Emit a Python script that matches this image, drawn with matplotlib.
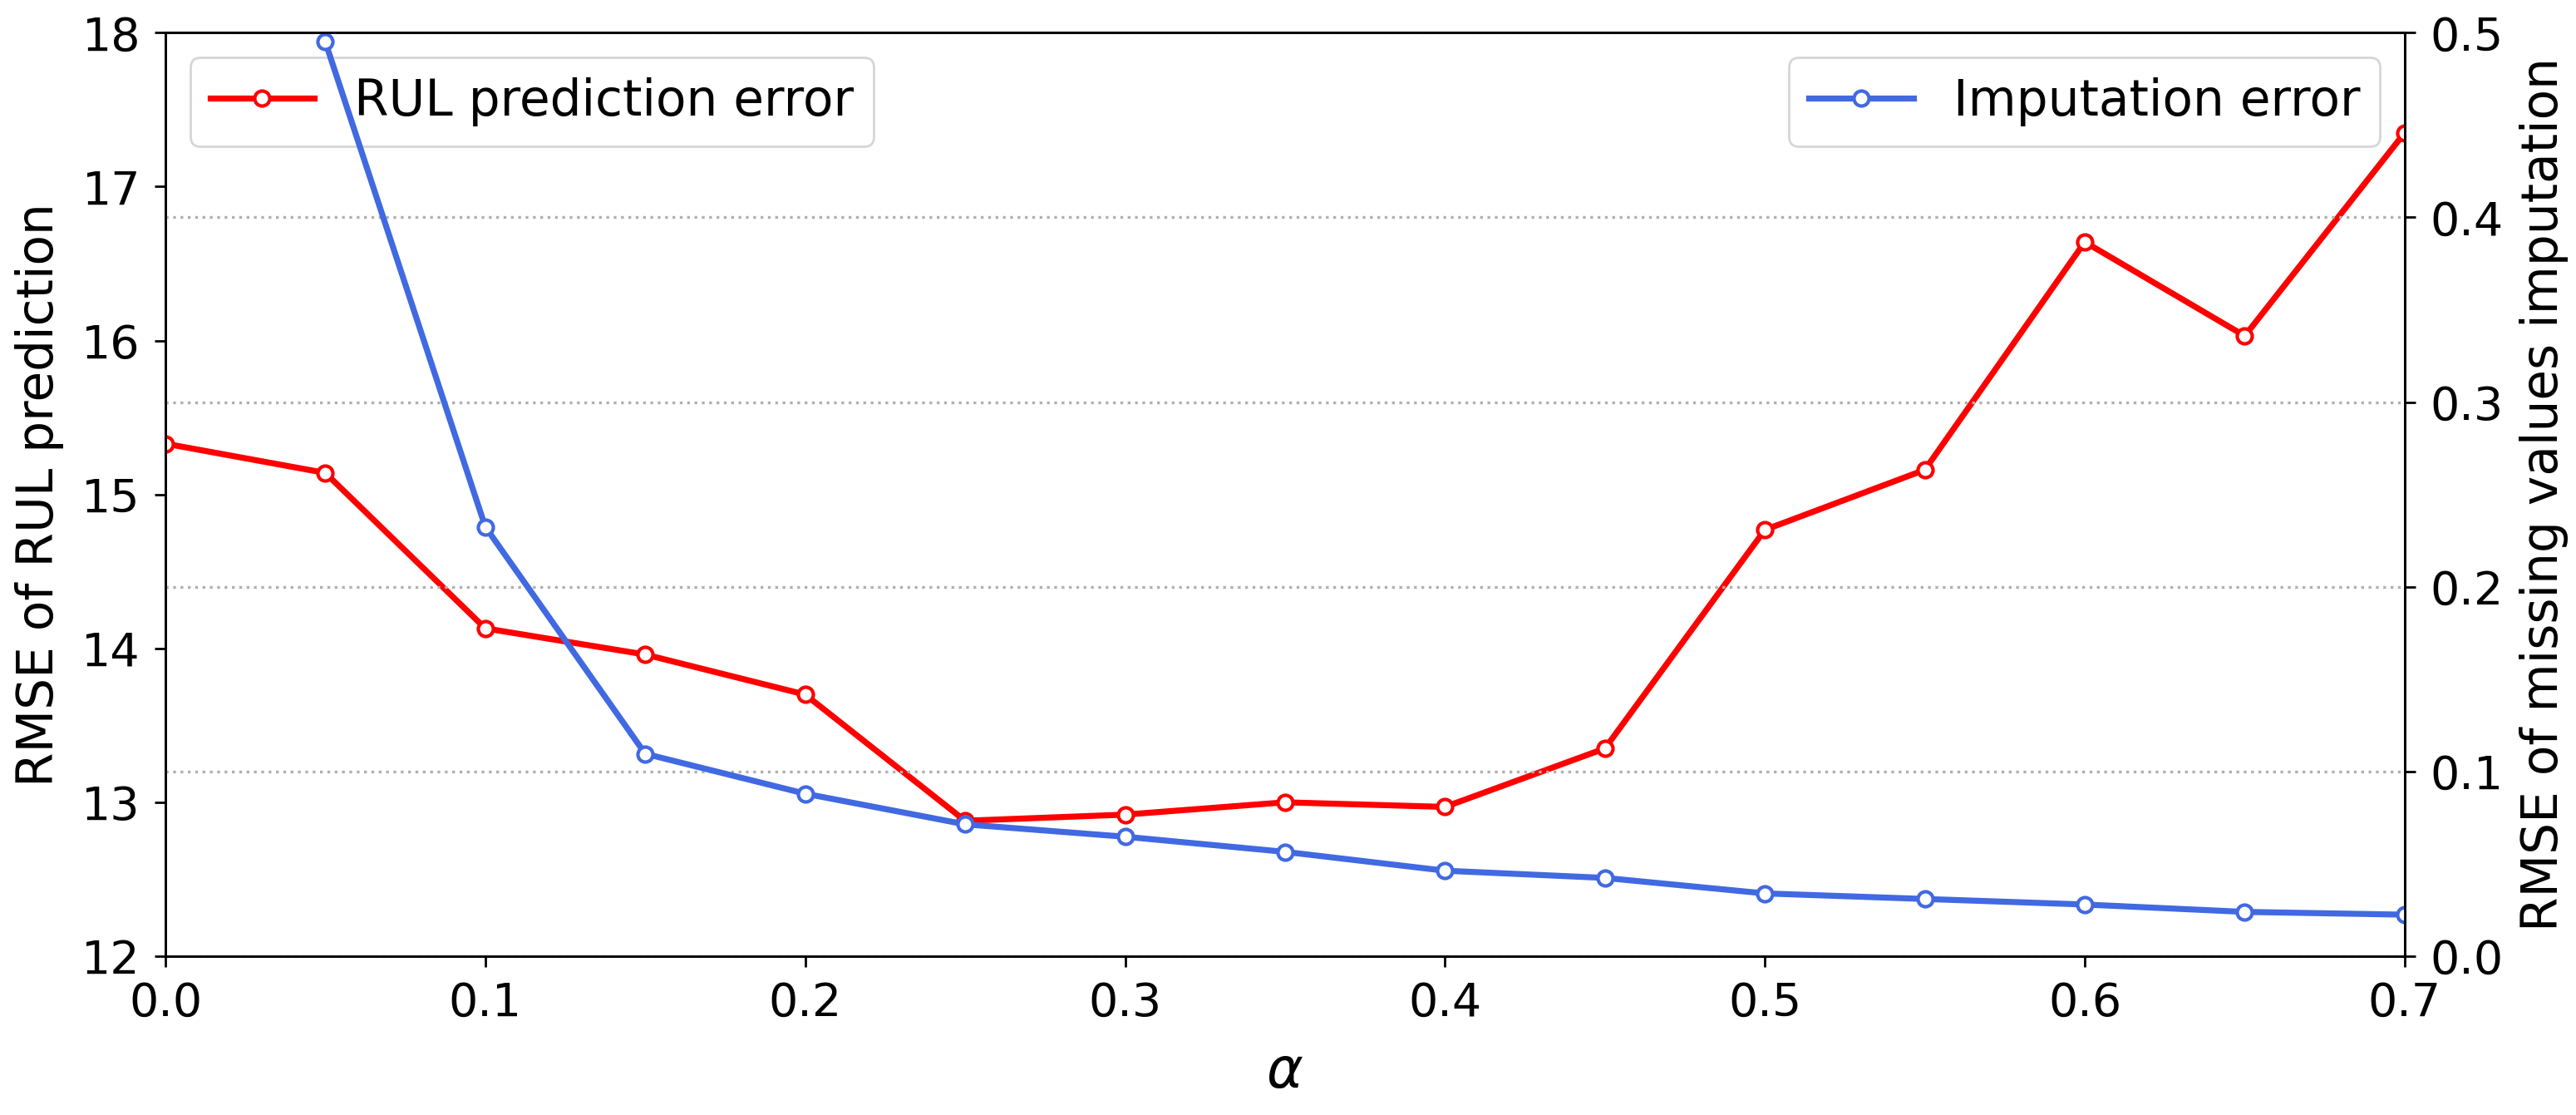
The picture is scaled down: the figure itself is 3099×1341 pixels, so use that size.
import matplotlib
matplotlib.use("Agg")
import matplotlib.pyplot as plt

# ---- data ----
alpha_rul = [0.0, 0.05, 0.1, 0.15, 0.2, 0.25, 0.3, 0.35, 0.4, 0.45, 0.5, 0.55, 0.6, 0.65, 0.7]
rul_error = [15.33, 15.14, 14.13, 13.96, 13.70, 12.88, 12.92, 13.00, 12.97, 13.35, 14.77, 15.16, 16.64, 16.03, 17.35]

alpha_imp = [0.05, 0.1, 0.15, 0.2, 0.25, 0.3, 0.35, 0.4, 0.45, 0.5, 0.55, 0.6, 0.65, 0.7]
imp_error = [0.495, 0.2325, 0.1096, 0.088, 0.0714, 0.0647, 0.0565, 0.0463, 0.0424, 0.034, 0.031, 0.028, 0.024, 0.0225]

x_ticks = [0.0, 0.1, 0.2, 0.3, 0.4, 0.5, 0.6, 0.7]
y1_ticks = [12, 13, 14, 15, 16, 17, 18]
y2_ticks = [0.0, 0.1, 0.2, 0.3, 0.4, 0.5]

FS = 20

fig = plt.figure(figsize=(15.495, 6.705), dpi=200)
ax1 = fig.add_axes([0.0642, 0.1424, 0.8693, 0.8283])
ax2 = ax1.twinx()

l1, = ax1.plot(alpha_rul, rul_error, color="red", lw=2.6, marker="o", ms=6.5,
               mfc="white", mec="red", mew=1.5, label="RUL prediction error")
l2, = ax2.plot(alpha_imp, imp_error, color="royalblue", lw=2.6, marker="o", ms=6.5,
               mfc="white", mec="royalblue", mew=1.5, label="Imputation error")

ax1.set_xlim(0, 0.7)
ax1.set_ylim(12, 18)
ax2.set_ylim(0, 0.5)
ax1.set_xticks(x_ticks)
ax1.set_xticklabels([f"{v:.1f}" for v in x_ticks])
ax1.set_yticks(y1_ticks)
ax2.set_yticks(y2_ticks)
ax2.set_yticklabels([f"{v:.1f}" for v in y2_ticks])

ax2.grid(axis="y", linestyle=":", color="#b0b0b0", lw=1.2)

for ax in (ax1, ax2):
    ax.tick_params(labelsize=FS, length=4.8, width=1, pad=6)
    for s in ax.spines.values():
        s.set_linewidth(1.0)

ax1.set_xlabel(r"$\alpha$", fontsize=24, labelpad=8)
ax1.set_ylabel("RMSE of RUL prediction", fontsize=21.5, labelpad=7.5)
ax2.set_ylabel("RMSE of missing values imputation", fontsize=21.5, labelpad=7)

ax1.legend(loc="upper left", fontsize=21.5, handlelength=2.1)
ax2.legend(loc="upper right", fontsize=21.5, handlelength=2.1)

fig.savefig("out.png", dpi=200)
